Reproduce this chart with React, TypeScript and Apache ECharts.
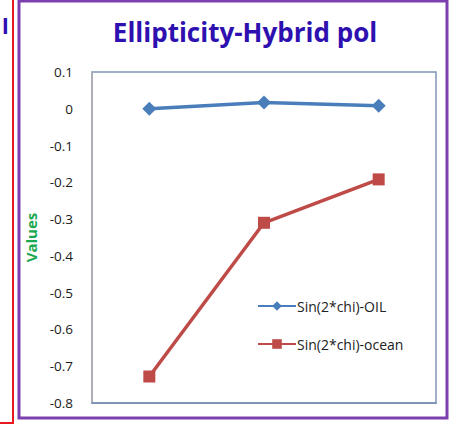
import React, { useEffect, useRef } from "react";
import * as echarts from "echarts";

const categories = ["1", "2", "3"];
const oilValues = [0.0, 0.017, 0.008];
const oceanValues = [-0.728, -0.31, -0.192];
const seriesNames = ["Sin(2*chi)-OIL", "Sin(2*chi)-ocean"];
const titleText = "Ellipticity-Hybrid pol";
const yAxisName = "Values";

export default function App() {
  const ref = useRef<HTMLDivElement>(null);
  useEffect(() => {
    if (!ref.current) return;
    const chart = echarts.init(ref.current, null, { renderer: "svg" });
    chart.setOption({
      animation: false,
      backgroundColor: "#ffffff",
      title: {
        text: titleText,
        left: 240,
        textAlign: "center",
        top: 14,
        textStyle: { color: "#2e10b0", fontSize: 26, fontWeight: "bold", fontFamily: "Open Sans" },
      },
      graphic: [
        { type: "rect", shape: { x: -5, y: -5, width: 18, height: 428 }, style: { fill: "none", stroke: "#e8191e", lineWidth: 2 } },
        { type: "rect", shape: { x: 19, y: 1, width: 428, height: 417 }, style: { fill: "none", stroke: "#7d3fb0", lineWidth: 3 } },
        { type: "text", x: 2, y: 14, style: { text: "l", fill: "#2e10b0", fontSize: 22, fontWeight: "bold", fontFamily: "Open Sans" } },
      ],
      legend: {
        orient: "vertical",
        left: 252,
        top: 294,
        itemWidth: 38,
        itemHeight: 12,
        itemGap: 24,
        textStyle: { color: "#222", fontSize: 14, fontFamily: "Open Sans", padding: [0, 0, 0, -4] },
        data: seriesNames,
      },
      grid: {
        left: 92,
        right: 17,
        top: 72,
        bottom: 22,
        show: true,
        borderColor: "#7f95b5",
        borderWidth: 1.5,
      },
      xAxis: {
        type: "category",
        data: categories,
        boundaryGap: true,
        axisLine: { onZero: false, lineStyle: { color: "#7f95b5", width: 2 } },
        axisTick: { show: false },
        axisLabel: { show: false },
      },
      yAxis: {
        type: "value",
        min: -0.8,
        max: 0.1,
        interval: 0.1,
        name: yAxisName,
        nameLocation: "middle",
        nameGap: 52,
        nameTextStyle: { color: "#1aa850", fontWeight: "bold", fontSize: 15, fontFamily: "Open Sans" },
        axisLine: { show: true, lineStyle: { color: "#b0b0b0", width: 1.5 } },
        axisTick: { show: false },
        splitLine: { show: false },
        axisLabel: {
          color: "#1a1a1a",
          fontSize: 13.5,
          fontFamily: "Open Sans",
          margin: 19,
          formatter: (v: number) => {
            const r = Math.round(v * 10) / 10;
            return r === 0 ? "0" : String(r);
          },
        },
      },
      series: [
        {
          name: seriesNames[0],
          type: "line",
          data: oilValues,
          symbol: "diamond",
          symbolSize: 14,
          itemStyle: { color: "#4a7ebb" },
          lineStyle: { color: "#4a7ebb", width: 3.5 },
        },
        {
          name: seriesNames[1],
          type: "line",
          data: oceanValues,
          symbol: "rect",
          symbolSize: 12,
          itemStyle: { color: "#be4b48" },
          lineStyle: { color: "#be4b48", width: 3.5 },
        },
      ],
    });
    return () => chart.dispose();
  }, []);
  return (
    <div
      ref={ref}
      style={{ position: "absolute", left: 0, top: 0, width: 453, height: 425 }}
    />
  );
}
